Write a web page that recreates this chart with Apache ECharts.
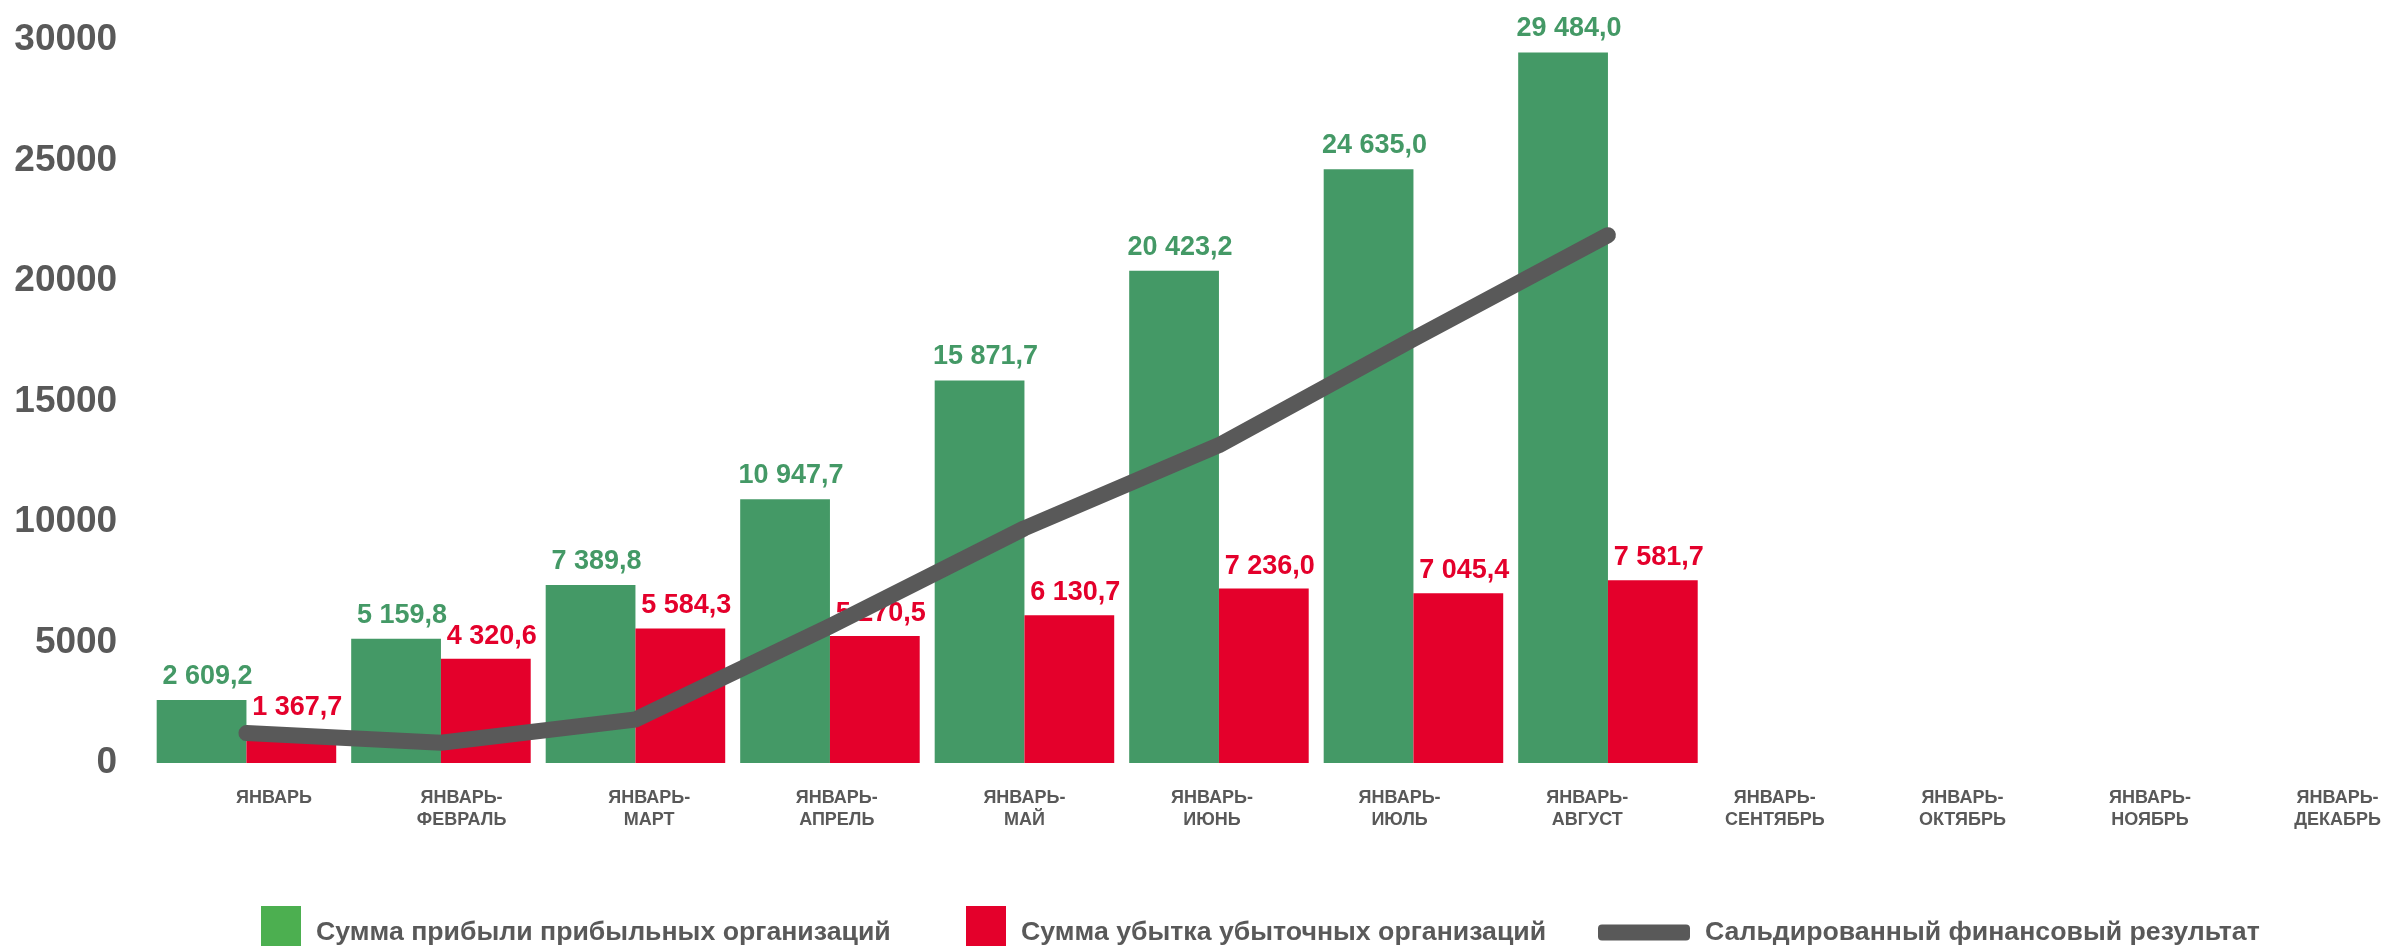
<!DOCTYPE html>
<html>
<head>
<meta charset="utf-8">
<script src="https://cdn.jsdelivr.net/npm/echarts@6/dist/echarts.min.js"></script>
<style>
html,body{margin:0;padding:0;background:#fff;}
#chart{width:2385px;height:950px;}
</style>
</head>
<body>
<div id="chart"></div>
<script>
const categories = ['ЯНВАРЬ','ЯНВАРЬ-\nФЕВРАЛЬ','ЯНВАРЬ-\nМАРТ','ЯНВАРЬ-\nАПРЕЛЬ','ЯНВАРЬ-\nМАЙ','ЯНВАРЬ-\nИЮНЬ','ЯНВАРЬ-\nИЮЛЬ','ЯНВАРЬ-\nАВГУСТ','ЯНВАРЬ-\nСЕНТЯБРЬ','ЯНВАРЬ-\nОКТЯБРЬ','ЯНВАРЬ-\nНОЯБРЬ','ЯНВАРЬ-\nДЕКАБРЬ'];
const profitName = 'Сумма прибыли прибыльных организаций';
const lossName = 'Сумма убытка убыточных организаций';
const balanceName = 'Сальдированный финансовый результат';
const profit = [2609.2, 5159.8, 7389.8, 10947.7, 15871.7, 20423.2, 24635.0, 29484.0];
const loss = [1367.7, 4320.6, 5584.3, 5270.5, 6130.7, 7236.0, 7045.4, 7581.7];
const balance = [1241.5, 839.2, 1805.5, 5677.2, 9741.0, 13187.2, 17589.6, 21902.3];
const yTicks = [0, 5000, 10000, 15000, 20000, 25000, 30000];

const FONT = "'Liberation Sans', Arial, sans-serif";
const GREY = '#595959';
const GREEN = '#449966';
const RED = '#E4002B';

function fmt(v){
  const s = v.toFixed(1).split('.');
  return s[0].replace(/\B(?=(\d{3})+(?!\d))/g, ' ') + ',' + s[1];
}

const legendText = { color: GREY, fontSize: 26.7, fontWeight: 'bold', fontFamily: FONT };
const squareLegendText = {
  color: GREY, fontSize: 26.7, fontWeight: 'bold', fontFamily: FONT,
  rich: { t: { color: GREY, fontSize: 26.7, fontWeight: 'bold', fontFamily: FONT, padding: [14, 0, 0, 10] } }
};

const chart = echarts.init(document.getElementById('chart'));
chart.setOption({
  animation: false,
  backgroundColor: '#fff',
  textStyle: { fontFamily: FONT },
  grid: [
    { left: 149.2, top: 40, width: 2139.5, height: 723 },
    { left: 274, top: 40, width: 2063.6, height: 723 }
  ],
  legend: [
    {
      left: 261, top: 906, padding: 0, itemWidth: 40, itemHeight: 40,
      icon: 'rect',
      data: [{ name: profitName, itemStyle: { color: '#4CAF50' } }],
      formatter: n => '{t|' + n + '}',
      textStyle: squareLegendText
    },
    {
      left: 966, top: 906, padding: 0, itemWidth: 40, itemHeight: 40,
      icon: 'rect',
      data: [{ name: lossName, itemStyle: { color: RED } }],
      formatter: n => '{t|' + n + '}',
      textStyle: squareLegendText
    },
    {
      left: 1598, top: 919, padding: 0, itemWidth: 92, itemHeight: 16,
      icon: 'roundRect',
      data: [{ name: balanceName, itemStyle: { color: GREY } }],
      textStyle: Object.assign({ padding: [0, 0, 0, 10] }, legendText)
    }
  ],
  xAxis: [
    {
      type: 'category', gridIndex: 0, data: categories, max: 10,
      axisLine: { show: false }, axisTick: { show: false }, axisLabel: { show: false }
    },
    {
      type: 'category', gridIndex: 1, data: categories, boundaryGap: false,
      axisLine: { show: false }, axisTick: { show: false },
      axisLabel: { interval: 0, margin: 24, color: GREY, fontSize: 18, fontWeight: 'bold', lineHeight: 22, fontFamily: FONT }
    }
  ],
  yAxis: [
    {
      type: 'value', gridIndex: 0, min: 0, max: 30000, interval: 5000,
      splitLine: { show: false }, axisLine: { show: false }, axisTick: { show: false },
      axisLabel: { margin: 32, color: GREY, fontSize: 37, fontWeight: 'bold', fontFamily: FONT,
        formatter: v => yTicks.includes(v) ? String(v) : '' }
    },
    {
      type: 'value', gridIndex: 1, min: 0, max: 30000, show: false
    }
  ],
  series: [
    {
      name: profitName, type: 'bar', xAxisIndex: 0, yAxisIndex: 0, data: profit,
      barGap: '0%', barCategoryGap: '7.7%',
      itemStyle: { color: GREEN },
      label: { show: true, position: 'top', distance: 10, offset: [6, 0], color: GREEN, fontSize: 27, fontWeight: 'bold', fontFamily: FONT, formatter: p => fmt(p.value) },
      z: 2
    },
    {
      name: lossName, type: 'bar', xAxisIndex: 0, yAxisIndex: 0, data: loss,
      barGap: '0%', barCategoryGap: '7.7%',
      itemStyle: { color: RED },
      label: { show: true, position: 'top', distance: 9, offset: [6, 0], color: RED, fontSize: 27, fontWeight: 'bold', fontFamily: FONT, formatter: p => fmt(p.value) },
      z: 2
    },
    {
      name: balanceName, type: 'line', xAxisIndex: 0, yAxisIndex: 0, data: balance,
      color: GREY,
      showSymbol: false, symbol: 'none',
      lineStyle: { color: GREY, width: 16, cap: 'round', join: 'round' },
      itemStyle: { color: GREY },
      z: 5
    }
  ]
});
</script>
</body>
</html>
